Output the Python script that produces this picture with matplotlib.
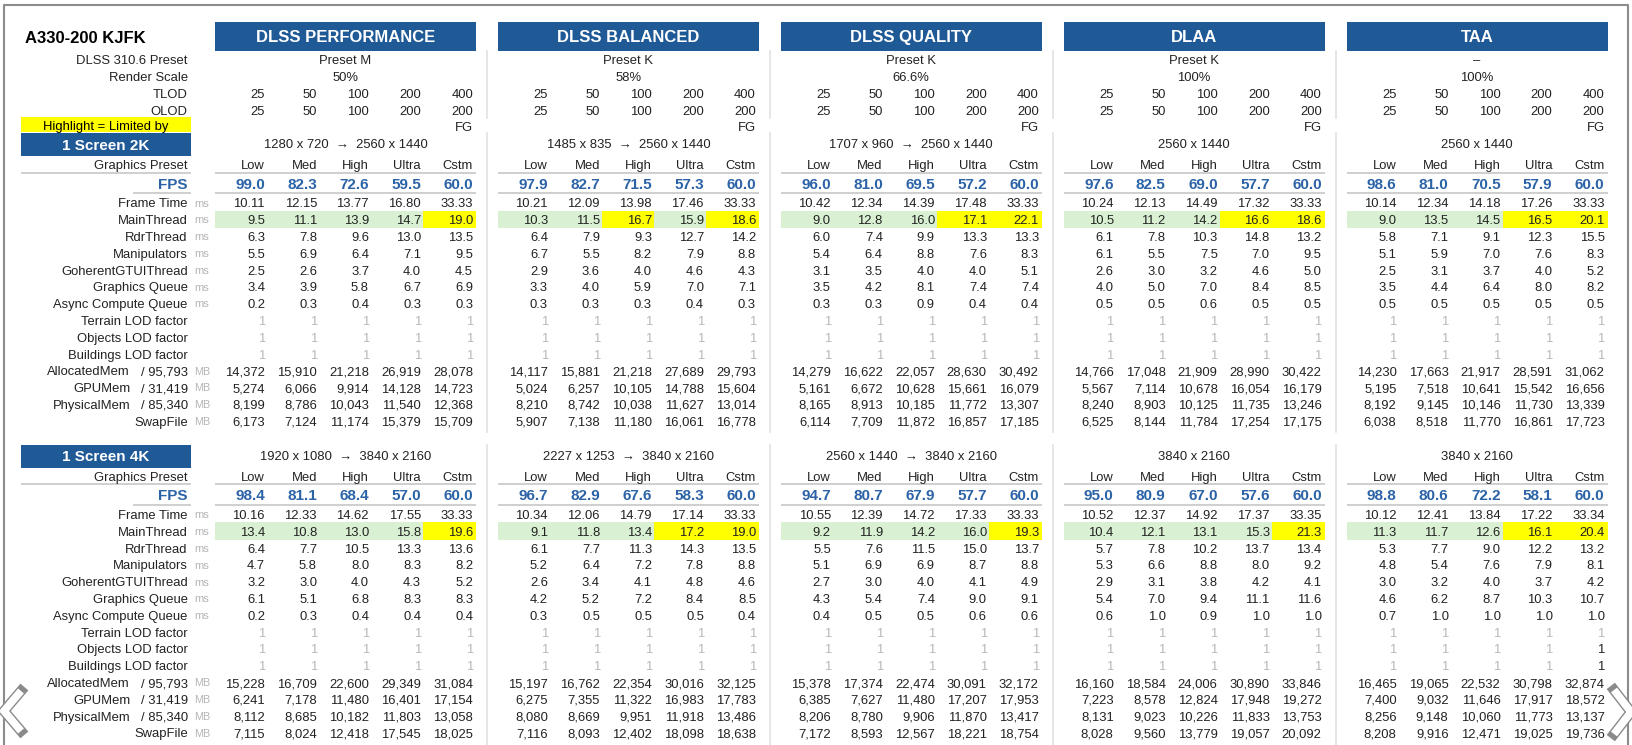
import matplotlib
matplotlib.use("Agg")
import matplotlib.pyplot as plt
from matplotlib.patches import Rectangle

# ---- data ----
title = "A330-200 KJFK"
modes = ["DLSS PERFORMANCE", "DLSS BALANCED", "DLSS QUALITY", "DLAA", "TAA"]
presets = ["Preset M", "Preset K", "Preset K", "Preset K", "–"]
render_scale = ["50%", "58%", "66.6%", "100%", "100%"]
tlod = [25, 50, 100, 200, 400]
olod = [25, 50, 100, 200, 200]
quality = ["Low", "Med", "High", "Ultra", "Cstm"]

res_2k = ["1280 x 720  →  2560 x 1440", "1485 x 835  →  2560 x 1440",
          "1707 x 960  →  2560 x 1440", "2560 x 1440", "2560 x 1440"]
res_4k = ["1920 x 1080  →  3840 x 2160", "2227 x 1253  →  3840 x 2160",
          "2560 x 1440  →  3840 x 2160", "3840 x 2160", "3840 x 2160"]

fps_2k = [[99.0, 82.3, 72.6, 59.5, 60.0], [97.9, 82.7, 71.5, 57.3, 60.0],
          [96.0, 81.0, 69.5, 57.2, 60.0], [97.6, 82.5, 69.0, 57.7, 60.0],
          [98.6, 81.0, 70.5, 57.9, 60.0]]
frame_2k = [[10.11, 12.15, 13.77, 16.80, 33.33], [10.21, 12.09, 13.98, 17.46, 33.33],
            [10.42, 12.34, 14.39, 17.48, 33.33], [10.24, 12.13, 14.49, 17.32, 33.33],
            [10.14, 12.34, 14.18, 17.26, 33.33]]
main_2k = [[9.5, 11.1, 13.9, 14.7, 19.0], [10.3, 11.5, 16.7, 15.9, 18.6],
           [9.0, 12.8, 16.0, 17.1, 22.1], [10.5, 11.2, 14.2, 16.6, 18.6],
           [9.0, 13.5, 14.5, 16.5, 20.1]]
rdr_2k = [[6.3, 7.8, 9.6, 13.0, 13.5], [6.4, 7.9, 9.3, 12.7, 14.2],
          [6.0, 7.4, 9.9, 13.3, 13.3], [6.1, 7.8, 10.3, 14.8, 13.2],
          [5.8, 7.1, 9.1, 12.3, 15.5]]
manip_2k = [[5.5, 6.9, 6.4, 7.1, 9.5], [6.7, 5.5, 8.2, 7.9, 8.8],
            [5.4, 6.4, 8.8, 7.6, 8.3], [6.1, 5.5, 7.5, 7.0, 9.5],
            [5.1, 5.9, 7.0, 7.6, 8.3]]
coh_2k = [[2.5, 2.6, 3.7, 4.0, 4.5], [2.9, 3.6, 4.0, 4.6, 4.3],
          [3.1, 3.5, 4.0, 4.0, 5.1], [2.6, 3.0, 3.2, 4.6, 5.0],
          [2.5, 3.1, 3.7, 4.0, 5.2]]
gq_2k = [[3.4, 3.9, 5.8, 6.7, 6.9], [3.3, 4.0, 5.9, 7.0, 7.1],
         [3.5, 4.2, 8.1, 7.4, 7.4], [4.0, 5.0, 7.0, 8.4, 8.5],
         [3.5, 4.4, 6.4, 8.0, 8.2]]
async_2k = [[0.2, 0.3, 0.4, 0.3, 0.3], [0.3, 0.3, 0.3, 0.4, 0.3],
            [0.3, 0.3, 0.9, 0.4, 0.4], [0.5, 0.5, 0.6, 0.5, 0.5],
            [0.5, 0.5, 0.5, 0.5, 0.5]]
alloc_2k = [[14372, 15910, 21218, 26919, 28078], [14117, 15881, 21218, 27689, 29793],
            [14279, 16622, 22057, 28630, 30492], [14766, 17048, 21909, 28990, 30422],
            [14230, 17663, 21917, 28591, 31062]]
gpu_2k = [[5274, 6066, 9914, 14128, 14723], [5024, 6257, 10105, 14788, 15604],
          [5161, 6672, 10628, 15661, 16079], [5567, 7114, 10678, 16054, 16179],
          [5195, 7518, 10641, 15542, 16656]]
phys_2k = [[8199, 8786, 10043, 11540, 12368], [8210, 8742, 10038, 11627, 13014],
           [8165, 8913, 10185, 11772, 13307], [8240, 8903, 10125, 11735, 13246],
           [8192, 9145, 10146, 11730, 13339]]
swap_2k = [[6173, 7124, 11174, 15379, 15709], [5907, 7138, 11180, 16061, 16778],
           [6114, 7709, 11872, 16857, 17185], [6525, 8144, 11784, 17254, 17175],
           [6038, 8518, 11770, 16861, 17723]]
limited_2k = [[4], [2, 4], [3, 4], [3, 4], [3, 4]]

fps_4k = [[98.4, 81.1, 68.4, 57.0, 60.0], [96.7, 82.9, 67.6, 58.3, 60.0],
          [94.7, 80.7, 67.9, 57.7, 60.0], [95.0, 80.9, 67.0, 57.6, 60.0],
          [98.8, 80.6, 72.2, 58.1, 60.0]]
frame_4k = [[10.16, 12.33, 14.62, 17.55, 33.33], [10.34, 12.06, 14.79, 17.14, 33.33],
            [10.55, 12.39, 14.72, 17.33, 33.33], [10.52, 12.37, 14.92, 17.37, 33.35],
            [10.12, 12.41, 13.84, 17.22, 33.34]]
main_4k = [[13.4, 10.8, 13.0, 15.8, 19.6], [9.1, 11.8, 13.4, 17.2, 19.0],
           [9.2, 11.9, 14.2, 16.0, 19.3], [10.4, 12.1, 13.1, 15.3, 21.3],
           [11.3, 11.7, 12.6, 16.1, 20.4]]
rdr_4k = [[6.4, 7.7, 10.5, 13.3, 13.6], [6.1, 7.7, 11.3, 14.3, 13.5],
          [5.5, 7.6, 11.5, 15.0, 13.7], [5.7, 7.8, 10.2, 13.7, 13.4],
          [5.3, 7.7, 9.0, 12.2, 13.2]]
manip_4k = [[4.7, 5.8, 8.0, 8.3, 8.2], [5.2, 6.4, 7.2, 7.8, 8.8],
            [5.1, 6.9, 6.9, 8.7, 8.8], [5.3, 6.6, 8.8, 8.0, 9.2],
            [4.8, 5.4, 7.6, 7.9, 8.1]]
coh_4k = [[3.2, 3.0, 4.0, 4.3, 5.2], [2.6, 3.4, 4.1, 4.8, 4.6],
          [2.7, 3.0, 4.0, 4.1, 4.9], [2.9, 3.1, 3.8, 4.2, 4.1],
          [3.0, 3.2, 4.0, 3.7, 4.2]]
gq_4k = [[6.1, 5.1, 6.8, 8.3, 8.3], [4.2, 5.2, 7.2, 8.4, 8.5],
         [4.3, 5.4, 7.4, 9.0, 9.1], [5.4, 7.0, 9.4, 11.1, 11.6],
         [4.6, 6.2, 8.7, 10.3, 10.7]]
async_4k = [[0.2, 0.3, 0.4, 0.4, 0.4], [0.3, 0.5, 0.5, 0.5, 0.4],
            [0.4, 0.5, 0.5, 0.6, 0.6], [0.6, 1.0, 0.9, 1.0, 1.0],
            [0.7, 1.0, 1.0, 1.0, 1.0]]
alloc_4k = [[15228, 16709, 22600, 29349, 31084], [15197, 16762, 22354, 30016, 32125],
            [15378, 17374, 22474, 30091, 32172], [16160, 18584, 24006, 30890, 33846],
            [16465, 19065, 22532, 30798, 32874]]
gpu_4k = [[6241, 7178, 11480, 16401, 17154], [6275, 7355, 11322, 16983, 17783],
          [6385, 7627, 11480, 17207, 17953], [7223, 8578, 12824, 17948, 19272],
          [7400, 9032, 11646, 17917, 18572]]
phys_4k = [[8112, 8685, 10182, 11803, 13058], [8080, 8669, 9951, 11918, 13486],
           [8206, 8780, 9906, 11870, 13417], [8131, 9023, 10226, 11833, 13753],
           [8256, 9148, 10060, 11773, 13137]]
swap_4k = [[7115, 8024, 12418, 17545, 18025], [7116, 8093, 12402, 18098, 18638],
           [7172, 8593, 12567, 18221, 18754], [8028, 9560, 13779, 19057, 20092],
           [8208, 9916, 12471, 19025, 19736]]
limited_4k = [[4], [3, 4], [4], [4], [3, 4]]

lod_factor = [1, 1, 1, 1, 1]
# (mode, lod row, column) cells of the LOD factor that are not greyed out
lod_dark_4k = [(4, 1, 4), (4, 2, 4)]

mem_totals = ["/ 95,793", "/ 31,419", "/ 85,340", ""]

# ---- style ----
FONT = ["Liberation Sans", "DejaVu Sans"]
BLUE = "#1f5a96"
FPS_BLUE = "#2b63a6"
TEXT = "#222222"
UNIT = "#b5b5b5"
LODC = "#b8b8b8"
GREEN = "#d9f1d2"
YELLOW = "#ffff00"
RULE = "#cfcfcf"
SEP = "#e2e2e2"

fig = plt.figure(figsize=(16.32, 7.45), dpi=100)
ax = fig.add_axes([0, 0, 1, 1])
ax.set_xlim(0, 1632)
ax.set_ylim(745, 0)
ax.axis("off")


def txt(x, y, s, size=9.4, ha="right", color=TEXT, weight="normal"):
    em = size * 100 / 72
    ax.text(x, y + 0.358 * em, s, ha=ha, va="baseline", fontsize=size,
            color=color, fontweight=weight, family=FONT)


def hline(x0, x1, y, color=RULE, lw=1.4):
    ax.plot([x0, x1], [y, y], color=color, lw=lw, solid_capstyle="butt")


BL0, PITCH, BW = 215, 282.9, 261
LAB_X = 187.7
lefts = [BL0 + PITCH * i for i in range(len(modes))]


def col_right(left, k):
    return left + 50 + 52 * k


# frame
ax.plot([4, 4, 1628, 1628], [745, 5, 5, 745], color="#8c8c8c", lw=1.5)

# block separators
for left in lefts[1:]:
    xs = left - 11
    for y0, y1 in [(51, 118), (133, 432), (445, 745)]:
        ax.plot([xs, xs], [y0, y1], color=SEP, lw=1.2)

# title & headers
txt(25, 36.7, title, size=12, ha="left", color="black", weight="bold")
for i, left in enumerate(lefts):
    ax.add_patch(Rectangle((left, 21.7), BW, 29.3, color=BLUE, lw=0))
    txt(left + BW / 2, 36.3, modes[i], size=12, ha="center", color="white", weight="bold")
    txt(left + BW / 2, 59.3, presets[i], ha="center")
    txt(left + BW / 2, 76, render_scale[i], ha="center")
    for k in range(5):
        txt(col_right(left, k), 93, str(tlod[k]))
        txt(col_right(left, k), 110, str(olod[k]))
    txt(col_right(left, 4), 126, "FG")

txt(LAB_X, 59.3, "DLSS 310.6 Preset")
txt(LAB_X, 76, "Render Scale")
txt(LAB_X, 93, "TLOD")
txt(LAB_X, 110, "OLOD")
ax.add_patch(Rectangle((21, 117.3), 170, 15, color=YELLOW, lw=0))
txt(106, 125, "Highlight = Limited by", ha="center", color="black")

row_names = ["Frame Time", "MainThread", "RdrThread", "Manipulators",
             "GoherentGTUIThread", "Graphics Queue", "Async Compute Queue",
             "Terrain LOD factor", "Objects LOD factor", "Buildings LOD factor",
             "AllocatedMem", "GPUMem", "PhysicalMem", "SwapFile"]


def draw_section(sy, name, res, fps, frame, ms_rows, mem_rows, limited, lod_dark):
    ax.add_patch(Rectangle((21, sy - 10), 170, 22.7, color=BLUE, lw=0))
    txt(106, sy + 1, name, size=11, ha="center", color="white", weight="bold")
    gp_y, fps_y, ft_y, step = sy + 21.4, sy + 40, sy + 59.4, 16.8
    txt(LAB_X, gp_y, "Graphics Preset")
    txt(LAB_X, fps_y, "FPS", size=11, color=FPS_BLUE, weight="bold")
    hline(21, 191, sy + 29.4)
    hline(133, 191, sy + 50)
    for r, rn in enumerate(row_names):
        y = ft_y + step * r
        if r >= 10:
            total = mem_totals[r - 10]
            if total:
                txt(130, y, rn)
                txt(LAB_X, y, total)
            else:
                txt(LAB_X, y, rn)
            txt(194, y, "MB", size=7.8, ha="left", color=UNIT)
        else:
            txt(LAB_X, y, rn)
            if r < 7:
                txt(194, y, "ms", size=8, ha="left", color=UNIT)
    main_y = ft_y + step
    for i, left in enumerate(lefts):
        txt(left + BW / 2, sy, res[i], ha="center")
        hline(left, left + BW, sy + 29.4)
        hline(left, left + BW, sy + 50)
        ax.add_patch(Rectangle((left, main_y - 8.8), BW, 17.6, color=GREEN, lw=0))
        for k in limited[i]:
            x0 = left + 52 * k
            ax.add_patch(Rectangle((x0, main_y - 8.8), left + BW - x0 if k == 4 else 52,
                                   17.6, color=YELLOW, lw=0))
        for k in range(5):
            xr = col_right(left, k)
            txt(xr, gp_y, quality[k])
            txt(xr, fps_y, f"{fps[i][k]:.1f}", size=11, color=FPS_BLUE, weight="bold")
            txt(xr, ft_y, f"{frame[i][k]:.2f}")
            for r, vals in enumerate(ms_rows):
                txt(xr, ft_y + step * (r + 1), f"{vals[i][k]:.1f}")
            for r in range(3):
                c = TEXT if (i, r, k) in lod_dark else LODC
                txt(xr, ft_y + step * (7 + r), str(lod_factor[k]), color=c)
            for r, vals in enumerate(mem_rows):
                txt(xr, ft_y + step * (10 + r), f"{vals[i][k]:,}")


draw_section(143.3, "1 Screen 2K", res_2k, fps_2k, frame_2k,
             [main_2k, rdr_2k, manip_2k, coh_2k, gq_2k, async_2k],
             [alloc_2k, gpu_2k, phys_2k, swap_2k], limited_2k, [])
draw_section(455.0, "1 Screen 4K", res_4k, fps_4k, frame_4k,
             [main_4k, rdr_4k, manip_4k, coh_4k, gq_4k, async_4k],
             [alloc_4k, gpu_4k, phys_4k, swap_4k], limited_4k, lod_dark_4k)

# slideshow arrows
for pts in ([(21, 691), (4, 711), (21, 731)], [(1614, 690), (1631, 712), (1614, 734)]):
    xs, ys = zip(*pts)
    ax.plot(xs, ys, color="#8a8a8a", lw=7.5, solid_joinstyle="miter",
            solid_capstyle="projecting")
    ax.plot(xs, ys, color="white", lw=5.5, solid_joinstyle="miter",
            solid_capstyle="butt")

fig.savefig("out.png", dpi=100)
